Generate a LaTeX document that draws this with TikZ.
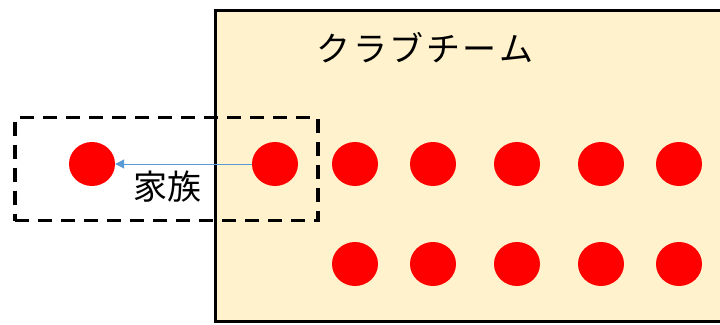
\documentclass[tikz,border=0pt]{standalone}
\usepackage{fontspec}
\newfontfamily\jp{Noto Sans CJK JP}
\usetikzlibrary{arrows.meta,shapes.geometric}
\definecolor{teamfill}{HTML}{FFF2CC}
\definecolor{dotred}{HTML}{FF0000}
\definecolor{arrowblue}{HTML}{5B9BD5}
\newcommand{\jpgap}{\kern2.5pt}
\begin{document}
\begin{tikzpicture}[x=1pt,y=-1pt,
  teambox/.style={draw=black,fill=teamfill,line width=3pt,minimum width=510pt,minimum height=311pt,inner sep=0pt},
  famframe/.style={draw=black,line width=3.5pt,dash pattern=on 14pt off 9pt,minimum width=303pt,minimum height=103pt,inner sep=0pt},
  dot/.style={ellipse,fill=dotred,minimum width=46pt,minimum height=44pt,inner sep=0pt},
  link/.style={draw=arrowblue,line width=1pt,-{Triangle[length=9pt,width=9pt]}},
  lab/.style={font=\jp\fontsize{34pt}{40pt}\selectfont,inner sep=0pt}
]
\useasboundingbox (0,0) rectangle (720,324);
\clip (0,0) rectangle (720,324);
\node[teambox] (team) at (470,165.5) {};
\node[lab] (title) at (425,48) {ク\jpgap ラ\jpgap ブ\jpgap チ\jpgap ー\jpgap ム};
\node[famframe] (family) at (166.5,169) {};
\node[dot] (c0) at (92,164) {};
\node[dot] (c1) at (275,164) {};
\node[dot] (t1) at (355,164) {};
\node[dot] (t2) at (433,164) {};
\node[dot] (t3) at (517,164) {};
\node[dot] (t4) at (601,164) {};
\node[dot] (t5) at (679,164) {};
\node[dot] (b1) at (355,264) {};
\node[dot] (b2) at (433,264) {};
\node[dot] (b3) at (517,264) {};
\node[dot] (b4) at (601,264) {};
\node[dot] (b5) at (679,264) {};
\draw[link] (c1) -- (c0);
\node[lab] (fam) at (167,187) {家族};
\end{tikzpicture}
\end{document}
